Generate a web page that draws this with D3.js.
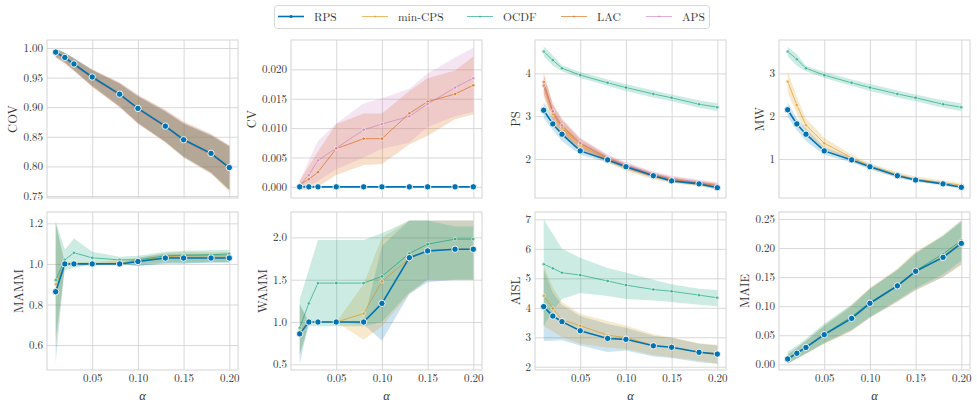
<!DOCTYPE html>
<html>
<head>
<meta charset="utf-8">
<script src="https://cdn.jsdelivr.net/npm/d3@7"></script>
<style>
body { margin: 0; background: #fff; }
.grid line { stroke: #d4d4d4; stroke-width: 0.9; }
.grid path { display: none; }
</style>
</head>
<body>
<svg id="chart" width="977" height="405"></svg>
<script>
// significance levels on the x axis
const alphas = [0.01, 0.02, 0.03, 0.05, 0.08, 0.10, 0.13, 0.15, 0.18, 0.20];
const methods = ["RPS", "min-CPS", "OCDF", "LAC", "APS"];
const colors = ["#0173b2", "#de8f05", "#029e73", "#d55e00", "#cc78bc"];

// COV
const covRPS = [0.993, 0.984, 0.973, 0.951, 0.922, 0.898, 0.868, 0.845, 0.822, 0.798];
const covRPSlo = [0.986, 0.976, 0.963, 0.937, 0.902, 0.874, 0.842, 0.816, 0.790, 0.760];
const covRPShi = [0.999, 0.992, 0.983, 0.963, 0.940, 0.918, 0.893, 0.872, 0.852, 0.834];
const covMin = [0.992, 0.983, 0.972, 0.950, 0.921, 0.897, 0.867, 0.844, 0.820, 0.797];
const covMinLo = [0.985, 0.975, 0.962, 0.935, 0.900, 0.872, 0.840, 0.814, 0.787, 0.757];
const covMinHi = [0.999, 0.992, 0.982, 0.962, 0.939, 0.918, 0.892, 0.872, 0.851, 0.833];
const covOCDF = [0.992, 0.983, 0.973, 0.951, 0.921, 0.898, 0.868, 0.846, 0.822, 0.799];
const covOCDFlo = [0.985, 0.976, 0.963, 0.936, 0.901, 0.873, 0.841, 0.816, 0.789, 0.760];
const covOCDFhi = [0.999, 0.992, 0.983, 0.963, 0.940, 0.919, 0.893, 0.873, 0.853, 0.834];
const covLAC = [0.991, 0.982, 0.971, 0.949, 0.921, 0.897, 0.867, 0.845, 0.821, 0.797];
const covLAClo = [0.984, 0.974, 0.961, 0.934, 0.901, 0.873, 0.842, 0.818, 0.790, 0.761];
const covLAChi = [0.998, 0.991, 0.982, 0.964, 0.942, 0.921, 0.896, 0.876, 0.855, 0.836];
const covAPS = [0.991, 0.982, 0.971, 0.950, 0.920, 0.896, 0.867, 0.844, 0.820, 0.797];
const covAPSlo = [0.984, 0.974, 0.961, 0.935, 0.899, 0.872, 0.841, 0.816, 0.788, 0.760];
const covAPShi = [0.998, 0.991, 0.982, 0.963, 0.941, 0.920, 0.894, 0.874, 0.853, 0.835];

// CV
const cvRPS = [0, 0, 0, 0, 0, 0, 0, 0, 0, 0];
const cvLAC = [0.0003, 0.0013, 0.0025, 0.0065, 0.0082, 0.0082, 0.0125, 0.0145, 0.0158, 0.0173];
const cvLAClo = [-0.0005, -0.0006, 0.0000, 0.0020, 0.0037, 0.0039, 0.0072, 0.0087, 0.0115, 0.0123];
const cvLAChi = [0.0010, 0.0035, 0.0060, 0.0107, 0.0125, 0.0125, 0.0163, 0.0185, 0.0198, 0.0222];
const cvAPS = [0.0003, 0.0020, 0.0045, 0.0066, 0.0097, 0.0107, 0.0120, 0.0141, 0.0169, 0.0185];
const cvAPSlo = [-0.0003, 0.0002, 0.0010, 0.0030, 0.0050, 0.0065, 0.0075, 0.0102, 0.0120, 0.0128];
const cvAPShi = [0.0010, 0.0045, 0.0078, 0.0108, 0.0142, 0.0151, 0.0167, 0.0193, 0.0220, 0.0237];

// PS
const psRPS = [3.14, 2.82, 2.58, 2.19, 1.98, 1.82, 1.61, 1.49, 1.42, 1.33];
const psRPSlo = [2.95, 2.68, 2.42, 2.10, 1.92, 1.76, 1.56, 1.45, 1.38, 1.29];
const psRPShi = [3.33, 2.97, 2.72, 2.28, 2.04, 1.88, 1.66, 1.54, 1.46, 1.37];
const psMin = [3.70, 3.05, 2.72, 2.32, 1.99, 1.80, 1.59, 1.50, 1.42, 1.35];
const psMinLo = [3.45, 2.85, 2.55, 2.20, 1.92, 1.72, 1.52, 1.44, 1.36, 1.29];
const psMinHi = [3.95, 3.25, 2.90, 2.45, 2.07, 1.88, 1.66, 1.57, 1.48, 1.41];
const psOCDF = [4.51, 4.31, 4.12, 3.96, 3.78, 3.67, 3.52, 3.43, 3.28, 3.21];
const psOCDFlo = [4.40, 4.18, 4.05, 3.89, 3.71, 3.59, 3.44, 3.35, 3.20, 3.12];
const psOCDFhi = [4.63, 4.42, 4.19, 4.03, 3.86, 3.75, 3.60, 3.51, 3.37, 3.30];
const psLAC = [3.80, 3.10, 2.76, 2.36, 2.02, 1.84, 1.63, 1.53, 1.44, 1.38];
const psLAClo = [3.55, 2.92, 2.60, 2.24, 1.95, 1.77, 1.57, 1.47, 1.39, 1.32];
const psLAChi = [4.02, 3.28, 2.92, 2.48, 2.09, 1.91, 1.69, 1.59, 1.50, 1.44];
const psAPS = [3.72, 3.12, 2.79, 2.38, 2.04, 1.86, 1.65, 1.55, 1.46, 1.40];
const psAPSlo = [3.50, 2.95, 2.63, 2.26, 1.97, 1.79, 1.59, 1.49, 1.41, 1.34];
const psAPShi = [3.95, 3.30, 2.95, 2.50, 2.11, 1.93, 1.71, 1.61, 1.52, 1.46];

// MW
const mwRPS = [2.15, 1.82, 1.58, 1.19, 0.98, 0.82, 0.61, 0.51, 0.42, 0.34];
const mwRPSlo = [1.98, 1.68, 1.42, 1.10, 0.92, 0.76, 0.56, 0.47, 0.38, 0.30];
const mwRPShi = [2.32, 1.95, 1.72, 1.28, 1.04, 0.88, 0.66, 0.55, 0.46, 0.38];
const mwMin = [2.81, 2.26, 1.79, 1.37, 1.03, 0.84, 0.63, 0.53, 0.45, 0.39];
const mwMinLo = [2.55, 2.05, 1.62, 1.22, 0.95, 0.77, 0.57, 0.48, 0.40, 0.33];
const mwMinHi = [3.05, 2.45, 1.95, 1.50, 1.10, 0.90, 0.70, 0.59, 0.50, 0.44];
const mwOCDF = [3.51, 3.33, 3.12, 2.96, 2.78, 2.67, 2.52, 2.43, 2.28, 2.21];
const mwOCDFlo = [3.40, 3.18, 3.05, 2.89, 2.71, 2.59, 2.44, 2.35, 2.20, 2.12];
const mwOCDFhi = [3.62, 3.45, 3.18, 3.03, 2.86, 2.75, 2.60, 2.51, 2.37, 2.30];

// MAMM
const mammRPS = [0.863, 1.0, 1.0, 1.0, 1.0, 1.012, 1.029, 1.029, 1.029, 1.029];
const mammRPSlo = [0.51, 1.0, 1.0, 1.0, 1.0, 0.99, 1.005, 1.005, 1.005, 1.005];
const mammRPShi = [1.20, 1.0, 1.0, 1.0, 1.0, 1.03, 1.05, 1.05, 1.05, 1.05];
const mammMin = [0.90, 1.0, 1.0, 1.0, 1.005, 1.015, 1.035, 1.04, 1.04, 1.04];
const mammMinLo = [0.59, 0.99, 0.99, 0.99, 0.995, 1.0, 1.01, 1.01, 1.01, 1.01];
const mammMinHi = [1.20, 1.01, 1.01, 1.01, 1.02, 1.03, 1.055, 1.06, 1.06, 1.06];
const mammOCDF = [0.92, 1.02, 1.055, 1.03, 1.02, 1.02, 1.04, 1.043, 1.045, 1.05];
const mammOCDFlo = [0.64, 0.97, 0.98, 1.0, 1.0, 0.99, 1.0, 1.0, 1.01, 1.01];
const mammOCDFhi = [1.21, 1.07, 1.125, 1.06, 1.035, 1.04, 1.06, 1.065, 1.067, 1.07];

// WAMM
const wammRPS = [0.86, 1.0, 1.0, 1.0, 1.0, 1.22, 1.76, 1.84, 1.86, 1.86];
const wammRPSlo = [0.50, 1.0, 1.0, 1.0, 0.97, 0.78, 1.33, 1.47, 1.50, 1.50];
const wammRPShi = [1.22, 1.0, 1.0, 1.0, 1.0, 1.90, 2.20, 2.20, 2.20, 2.20];
const wammMin = [0.90, 1.0, 1.0, 1.0, 1.10, 1.48, 1.75, 1.85, 1.86, 1.86];
const wammMinLo = [0.60, 1.0, 1.0, 1.0, 0.79, 0.95, 1.33, 1.50, 1.50, 1.50];
const wammMinHi = [1.20, 1.0, 1.0, 1.0, 1.45, 2.00, 2.20, 2.20, 2.20, 2.20];
const wammOCDF = [0.93, 1.22, 1.46, 1.46, 1.46, 1.54, 1.81, 1.92, 1.98, 1.98];
const wammOCDFlo = [0.62, 0.95, 0.95, 0.95, 0.95, 1.00, 1.35, 1.50, 1.50, 1.50];
const wammOCDFhi = [1.27, 1.62, 1.97, 1.97, 1.97, 2.05, 2.20, 2.20, 2.13, 2.13];

// AISL
const aislRPS = [4.04, 3.72, 3.53, 3.22, 2.96, 2.93, 2.71, 2.66, 2.49, 2.43];
const aislRPSlo = [2.87, 2.88, 2.90, 2.72, 2.50, 2.55, 2.35, 2.30, 2.15, 2.10];
const aislRPShi = [5.30, 4.50, 4.10, 3.72, 3.45, 3.32, 3.05, 2.98, 2.78, 2.72];
const aislMin = [4.41, 3.98, 3.60, 3.39, 3.07, 2.99, 2.73, 2.67, 2.50, 2.45];
const aislMinLo = [3.38, 3.20, 3.00, 2.78, 2.65, 2.60, 2.40, 2.32, 2.20, 2.10];
const aislMinHi = [5.45, 4.70, 4.20, 3.80, 3.55, 3.40, 3.10, 3.00, 2.80, 2.75];
const aislOCDF = [5.48, 5.34, 5.19, 5.11, 4.91, 4.77, 4.62, 4.56, 4.43, 4.34];
const aislOCDFlo = [3.38, 3.90, 4.30, 4.50, 4.40, 4.30, 4.25, 4.20, 4.10, 4.05];
const aislOCDFhi = [7.00, 6.50, 6.00, 5.70, 5.35, 5.20, 4.95, 4.80, 4.65, 4.60];

// MAIE
const maieRPS = [0.0092, 0.019, 0.029, 0.051, 0.079, 0.105, 0.135, 0.160, 0.184, 0.208];
const maieRPSlo = [0.002, 0.010, 0.018, 0.036, 0.058, 0.080, 0.108, 0.128, 0.150, 0.172];
const maieRPShi = [0.017, 0.028, 0.040, 0.066, 0.100, 0.130, 0.163, 0.192, 0.220, 0.245];
const maieMin = [0.010, 0.019, 0.029, 0.050, 0.080, 0.104, 0.134, 0.158, 0.186, 0.210];
const maieMinLo = [0.002, 0.010, 0.018, 0.035, 0.057, 0.080, 0.107, 0.127, 0.150, 0.170];
const maieMinHi = [0.018, 0.029, 0.041, 0.067, 0.102, 0.132, 0.165, 0.194, 0.222, 0.247];
const maieOCDF = [0.010, 0.020, 0.030, 0.052, 0.082, 0.106, 0.136, 0.161, 0.190, 0.213];
const maieOCDFlo = [0.000, 0.010, 0.019, 0.037, 0.060, 0.082, 0.110, 0.131, 0.155, 0.178];
const maieOCDFhi = [0.022, 0.032, 0.044, 0.070, 0.103, 0.130, 0.162, 0.190, 0.222, 0.248];

// x tick labels
const xTicks = [0.05, 0.10, 0.15, 0.20];

const FONT = "'Latin Modern Roman', 'CMU Serif', 'Liberation Serif', serif";
const TEXT_COLOR = "#333";

function s(method, mean, lo, hi) {
    return { method: method, mean: mean, lo: lo, hi: hi };
}

let panels = [
    { label: "COV", col: 0, row: 0, domain: [0.7466, 1.0135], ticks: [0.75, 0.80, 0.85, 0.90, 0.95, 1.00], fmt: ".2f",
      series: [s("RPS", covRPS, covRPSlo, covRPShi), s("min-CPS", covMin, covMinLo, covMinHi), s("OCDF", covOCDF, covOCDFlo, covOCDFhi),
               s("LAC", covLAC, covLAClo, covLAChi), s("APS", covAPS, covAPSlo, covAPShi)] },
    { label: "CV", col: 1, row: 0, domain: [-0.0019, 0.025], ticks: [0, 0.005, 0.010, 0.015, 0.020], fmt: ".3f",
      series: [s("RPS", cvRPS, cvRPS, cvRPS), s("LAC", cvLAC, cvLAClo, cvLAChi), s("APS", cvAPS, cvAPSlo, cvAPShi)] },
    { label: "PS", col: 2, row: 0, domain: [1.09, 4.78], ticks: [2, 3, 4], fmt: "d",
      series: [s("RPS", psRPS, psRPSlo, psRPShi), s("min-CPS", psMin, psMinLo, psMinHi), s("OCDF", psOCDF, psOCDFlo, psOCDFhi),
               s("LAC", psLAC, psLAClo, psLAChi), s("APS", psAPS, psAPSlo, psAPShi)] },
    { label: "MW", col: 3, row: 0, domain: [0.09, 3.78], ticks: [1, 2, 3], fmt: "d",
      series: [s("RPS", mwRPS, mwRPSlo, mwRPShi), s("min-CPS", mwMin, mwMinLo, mwMinHi), s("OCDF", mwOCDF, mwOCDFlo, mwOCDFhi)] },
    { label: "MAMM", col: 0, row: 1, domain: [0.477, 1.256], ticks: [0.6, 0.8, 1.0, 1.2], fmt: ".1f",
      series: [s("RPS", mammRPS, mammRPSlo, mammRPShi), s("min-CPS", mammMin, mammMinLo, mammMinHi), s("OCDF", mammOCDF, mammOCDFlo, mammOCDFhi)] },
    { label: "WAMM", col: 1, row: 1, domain: [0.433, 2.30], ticks: [0.5, 1.0, 1.5, 2.0], fmt: ".1f",
      series: [s("RPS", wammRPS, wammRPSlo, wammRPShi), s("min-CPS", wammMin, wammMinLo, wammMinHi), s("OCDF", wammOCDF, wammOCDFlo, wammOCDFhi)] },
    { label: "AISL", col: 2, row: 1, domain: [1.89, 7.25], ticks: [2, 3, 4, 5, 6, 7], fmt: "d",
      series: [s("RPS", aislRPS, aislRPSlo, aislRPShi), s("min-CPS", aislMin, aislMinLo, aislMinHi), s("OCDF", aislOCDF, aislOCDFlo, aislOCDFhi)] },
    { label: "MAIE", col: 3, row: 1, domain: [-0.0098, 0.262], ticks: [0, 0.05, 0.10, 0.15, 0.20, 0.25], fmt: ".2f",
      series: [s("RPS", maieRPS, maieRPSlo, maieRPShi), s("min-CPS", maieMin, maieMinLo, maieMinHi), s("OCDF", maieOCDF, maieOCDFlo, maieOCDFhi)] }
];

function getConfig() {
    let colX = [47, 291, 535, 779];
    let rowY = [40, 212];
    let w = 191;
    let h = 158;
    let svg = d3.select("#chart");
    return { colX, rowY, w, h, svg };
}

function colorOf(method) {
    return colors[methods.indexOf(method)];
}

function drawPanel(p, config) {
    let { colX, rowY, w, h, svg } = config;
    let x0 = colX[p.col], y0 = rowY[p.row];
    let xScale = d3.scaleLinear().domain([0.0005, 0.2095]).range([x0, x0 + w]);
    let yScale = d3.scaleLinear().domain(p.domain).range([y0 + h, y0]);
    let g = svg.append("g");

    // grid + tick labels
    g.append("g").attr("class", "grid")
        .attr("transform", `translate(0,${y0 + h})`)
        .call(d3.axisBottom(xScale).tickValues(xTicks).tickSize(-h).tickPadding(4)
            .tickFormat(p.row === 1 ? d3.format(".2f") : ""));
    let yAxis = g.append("g").attr("class", "grid")
        .attr("transform", `translate(${x0},0)`)
        .call(d3.axisLeft(yScale).tickValues(p.ticks).tickSize(-w).tickPadding(4)
            .tickFormat(d3.format(p.fmt)));
    g.selectAll(".grid .tick text")
        .style("font-family", FONT)
        .style("font-size", "11px")
        .attr("fill", TEXT_COLOR);
    g.selectAll(".grid .tick line").attr("stroke", null);

    g.append("rect")
        .attr("x", x0).attr("y", y0).attr("width", w).attr("height", h)
        .attr("fill", "none").attr("stroke", "#d4d4d4").attr("stroke-width", 1);

    let clipId = "clip" + p.label;
    svg.append("clipPath").attr("id", clipId)
        .append("rect").attr("x", x0).attr("y", y0).attr("width", w).attr("height", h);
    let body = g.append("g").attr("clip-path", `url(#${clipId})`);

    let area = d3.area()
        .x((d, i) => xScale(alphas[i]))
        .y0(d => yScale(d[0]))
        .y1(d => yScale(d[1]));
    let line = d3.line()
        .x((d, i) => xScale(alphas[i]))
        .y(d => yScale(d));

    p.series.forEach(sr => {
        body.append("path")
            .datum(sr.lo.map((v, i) => [v, sr.hi[i]]))
            .attr("d", area)
            .attr("fill", colorOf(sr.method))
            .attr("fill-opacity", 0.2);
    });

    // other methods first, RPS on top
    let ordered = p.series.filter(sr => sr.method !== "RPS").concat(p.series.filter(sr => sr.method === "RPS"));
    ordered.forEach(sr => {
        let isRPS = sr.method === "RPS";
        let c = colorOf(sr.method);
        body.append("path")
            .datum(sr.mean)
            .attr("d", line)
            .attr("fill", "none")
            .attr("stroke", c)
            .attr("stroke-width", isRPS ? 1.6 : 1)
            .attr("stroke-opacity", isRPS ? 1 : 0.6);
        body.selectAll(null)
            .data(sr.mean)
            .enter().append("circle")
            .attr("cx", (d, i) => xScale(alphas[i]))
            .attr("cy", d => yScale(d))
            .attr("r", isRPS ? 3.2 : 1.8)
            .attr("fill", c)
            .attr("fill-opacity", isRPS ? 1 : 0.5)
            .attr("stroke", "#fff")
            .attr("stroke-width", isRPS ? 0.9 : 0.5);
    });

    // y axis label, placed left of the tick labels
    let bb = yAxis.node().getBBox();
    let labelX = x0 + bb.x - 6;
    svg.append("text")
        .attr("transform", `translate(${labelX},${y0 + h / 2}) rotate(-90)`)
        .attr("text-anchor", "middle")
        .style("font-family", FONT)
        .style("font-size", "12.5px")
        .attr("fill", TEXT_COLOR)
        .text(p.label);

    if (p.row === 1) {
        svg.append("text")
            .attr("x", x0 + w / 2).attr("y", 400)
            .attr("text-anchor", "middle")
            .style("font-family", FONT)
            .style("font-size", "12.5px")
            .style("font-style", "italic")
            .attr("fill", TEXT_COLOR)
            .text("α");
    }
}

function drawLegend(config) {
    let { svg } = config;
    let lg = svg.append("g");
    lg.append("rect")
        .attr("x", 274.5).attr("y", 5.5).attr("width", 435).attr("height", 23)
        .attr("rx", 3).attr("fill", "#fff").attr("stroke", "#d8d8d8");
    let itemX = [278, 362, 467, 561, 646];
    methods.forEach((m, i) => {
        let isRPS = m === "RPS";
        let x = itemX[i];
        lg.append("line")
            .attr("x1", x).attr("x2", x + 26).attr("y1", 16.5).attr("y2", 16.5)
            .attr("stroke", colors[i])
            .attr("stroke-width", isRPS ? 1.6 : 1)
            .attr("stroke-opacity", isRPS ? 1 : 0.6);
        lg.append("circle")
            .attr("cx", x + 13).attr("cy", 16.5).attr("r", isRPS ? 1.6 : 1)
            .attr("fill", colors[i]).attr("fill-opacity", isRPS ? 1 : 0.5);
        lg.append("text")
            .attr("x", x + 36).attr("y", 20.5)
            .style("font-family", FONT)
            .style("font-size", "11.5px")
            .attr("fill", TEXT_COLOR)
            .text(m);
    });
}

function drawChart() {
    let config = getConfig();
    panels.forEach(p => drawPanel(p, config));
    drawLegend(config);
}

drawChart();
</script>
</body>
</html>
